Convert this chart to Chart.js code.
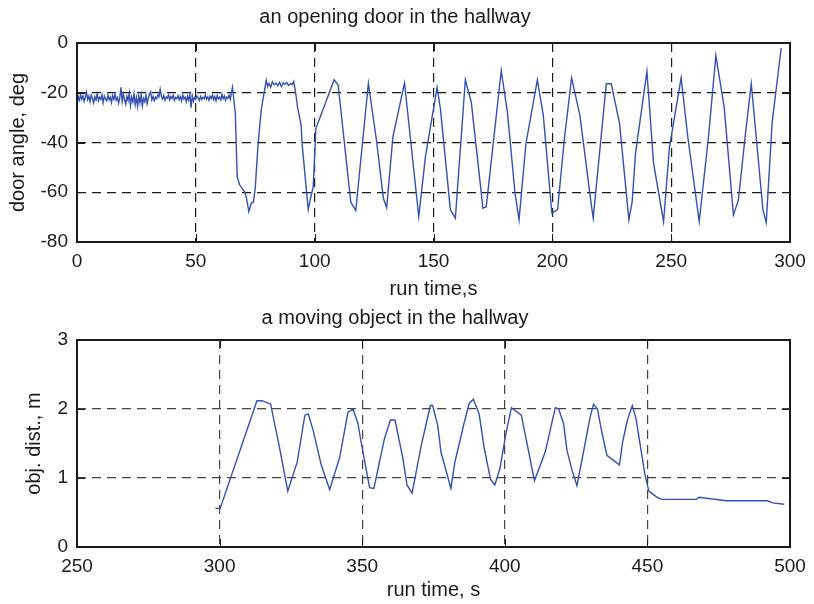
<!DOCTYPE html>
<html>
<head>
<meta charset="utf-8">
<title>door angle and object distance</title>
<script src="https://cdn.jsdelivr.net/npm/chart.js@4"></script>
<style>
  html, body { margin: 0; padding: 0; background: #fff; }
  canvas { display: block; }
</style>
</head>
<body>
<canvas id="doorChart" width="814" height="302"></canvas>
<canvas id="objChart" width="814" height="302"></canvas>
<script>
// door sensor before the door starts moving: one reading every 0.5 s from t = 0
const noiseStep = 0.5;
const doorNoise = [
  -24.5, -21.5, -23.0, -20.8, -22.6, -21.2, -23.4, -21.9, -19.8, -22.8,
  -21.4, -23.6, -20.9, -22.3, -24.1, -21.6, -22.9, -20.5, -23.2, -21.8,
  -22.7, -20.9, -24.0, -21.3, -22.5, -23.3, -21.0, -22.8, -21.7, -23.9,
  -21.1, -22.6, -20.7, -23.0, -21.9, -24.2, -22.1, -17.8, -23.5, -20.6,
  -22.8, -24.6, -21.4, -23.1, -20.2, -25.1, -21.8, -23.7, -20.4, -24.8,
  -22.0, -25.5, -21.2, -24.0, -20.8, -25.3, -22.3, -23.6, -21.0, -24.4,
  -22.2, -20.5, -19.6, -22.9, -21.5, -23.2, -21.8, -22.4, -20.9, -21.6,
  -18.6, -21.3, -22.5, -21.1, -23.0, -21.7, -22.2, -20.8, -22.9, -21.5,
  -22.3, -21.0, -23.1, -21.9, -22.4, -21.2, -22.8, -21.6, -23.3, -20.9,
  -22.5, -21.8, -23.6, -21.4, -22.9, -20.7, -26.0, -21.2, -23.4, -21.9,
  -22.6, -21.3, -22.0, -23.1, -21.5, -22.7, -21.9, -22.4, -20.8, -22.6,
  -21.7, -23.0, -21.4, -22.3, -20.9, -22.8, -21.6, -23.2, -21.1, -22.5,
  -21.8, -22.9, -20.6, -22.4, -21.3, -23.0, -21.7, -22.2, -21.0, -22.6
];

// after that, read point by point
const doorTime = [
  65.4, 66.6, 67.4, 68.4, 70.5, 71.2, 72.3, 73.3, 74.2, 75.0,
  76.1, 77.5, 78.9, 79.6, 80.2, 80.8, 81.5, 82.2, 83.0, 83.8,
  84.5, 85.2, 86.0, 86.8, 87.5, 88.3, 89.0, 89.8, 90.5, 91.2,
  92.0, 92.8, 94.3, 94.7, 95.6, 97.3, 98.4, 99.4, 100.5, 108.2,
  109.9, 115.2, 117.3, 122.6, 126.1, 128.9, 130.3, 132.9, 137.8, 143.8,
  146.6, 151.5, 152.9, 157.1, 159.2, 163.4, 165.9, 170.8, 172.2, 178.5,
  181.1, 184.3, 186.0, 188.9, 193.7, 196.2, 199.8, 202.2, 205.0, 208.1,
  211.6, 216.5, 217.2, 222.7, 224.8, 228.3, 232.2, 233.6, 235.0, 239.8,
  242.6, 246.8, 249.3, 254.2, 257.0, 261.8, 265.7, 268.8, 272.3, 276.2,
  278.3, 281.1, 283.7, 286.3, 288.6, 290.0, 292.5, 296.3
];
const doorAngle = [
  -17.8, -28.0, -53.8, -57.0, -59.8, -61.8, -67.8, -64.4, -64.0, -58.4,
  -41.8, -27.0, -19.0, -15.0, -17.5, -16.2, -17.8, -15.6, -16.8, -16.1,
  -17.2, -15.8, -17.5, -16.0, -16.6, -15.9, -17.0, -16.3, -16.8, -15.5,
  -20.0, -25.8, -33.0, -40.3, -49.7, -67.0, -61.8, -57.8, -34.4, -14.8,
  -17.0, -64.0, -67.4, -16.2, -39.8, -62.4, -66.2, -37.8, -16.0, -69.8,
  -45.8, -17.8, -26.4, -67.0, -70.4, -14.8, -23.8, -66.4, -65.8, -11.1,
  -27.8, -60.4, -71.1, -40.4, -14.8, -29.1, -68.4, -67.0, -39.1, -14.0,
  -29.1, -65.8, -70.4, -16.4, -16.4, -32.4, -71.1, -63.8, -44.4, -11.4,
  -48.4, -71.8, -41.8, -14.0, -37.8, -71.8, -37.8, -5.1, -25.8, -69.1,
  -63.1, -37.8, -16.4, -43.1, -67.0, -72.2, -31.8, -2.0
];

const objTime = [
  298.5, 300.2, 313.1, 314.8, 317.9, 321.2, 323.9, 327.2, 329.9, 331.1,
  332.8, 335.7, 338.6, 342.1, 345.0, 346.8, 348.5, 349.7, 352.6, 354.1,
  357.8, 359.9, 361.5, 364.2, 365.7, 367.5, 370.6, 373.9, 374.7, 376.5,
  377.6, 381.1, 382.5, 385.7, 387.5, 389.0, 391.0, 392.7, 395.0, 396.5,
  398.3, 400.3, 402.3, 405.8, 410.4, 414.2, 417.7, 418.9, 420.6, 421.8,
  423.6, 425.3, 427.0, 429.9, 431.1, 432.5, 434.0, 435.8, 440.2, 441.3,
  443.0, 444.7, 446.0, 449.1, 450.5, 453.4, 455.0, 467.2, 468.1, 477.6,
  492.1, 493.9, 498.0
];
const objDist = [
  0.56, 0.56, 2.12, 2.12, 2.07, 1.40, 0.81, 1.23, 1.91, 1.93,
  1.69, 1.18, 0.83, 1.30, 1.95, 2.00, 1.79, 1.50, 0.86, 0.85,
  1.57, 1.84, 1.84, 1.30, 0.90, 0.78, 1.45, 2.05, 2.05, 1.76,
  1.38, 0.85, 1.23, 1.79, 2.08, 2.14, 1.93, 1.45, 0.98, 0.90,
  1.14, 1.62, 2.02, 1.91, 0.96, 1.38, 2.02, 2.00, 1.79, 1.40,
  1.11, 0.89, 1.25, 1.88, 2.07, 2.00, 1.67, 1.33, 1.19, 1.52,
  1.84, 2.05, 1.86, 1.06, 0.81, 0.72, 0.69, 0.69, 0.72, 0.67,
  0.67, 0.64, 0.62
];

const doorPoints = doorNoise.map((v, i) => ({ x: i * noiseStep, y: v }))
  .concat(doorTime.map((t, i) => ({ x: t, y: doorAngle[i] })));
const objPoints = objTime.map((t, i) => ({ x: t, y: objDist[i] }));

Chart.defaults.font.family = '"Liberation Sans", Arial, Helvetica, sans-serif';
Chart.defaults.color = '#1a1a1a';

const lineColor = '#3351b0';

// matlab style box with inward ticks on all four sides
const framePlugin = {
  id: 'frame',
  afterDraw(chart) {
    const { ctx, chartArea: a, scales } = chart;
    const tick = 8;
    ctx.save();
    ctx.strokeStyle = '#1a1a1a';
    ctx.lineWidth = 1;
    ctx.beginPath();
    scales.x.ticks.forEach(t => {
      const px = Math.round(scales.x.getPixelForValue(t.value)) + 0.5;
      ctx.moveTo(px, a.bottom); ctx.lineTo(px, a.bottom - tick);
      ctx.moveTo(px, a.top); ctx.lineTo(px, a.top + tick);
    });
    scales.y.ticks.forEach(t => {
      const py = Math.round(scales.y.getPixelForValue(t.value)) + 0.5;
      ctx.moveTo(a.left, py); ctx.lineTo(a.left + tick, py);
      ctx.moveTo(a.right, py); ctx.lineTo(a.right - tick, py);
    });
    ctx.stroke();
    ctx.lineWidth = 2;
    ctx.strokeRect(a.left, a.top, a.right - a.left, a.bottom - a.top);
    ctx.restore();
  }
};

function makeChart(id, cfg) {
  return new Chart(document.getElementById(id), {
    type: 'line',
    data: {
      datasets: [{
        data: cfg.points,
        borderColor: lineColor,
        borderWidth: 1.4,
        pointRadius: 0,
        tension: 0,
        fill: false
      }]
    },
    options: {
      responsive: false,
      animation: false,
      devicePixelRatio: 1,
      layout: { padding: { left: 0, right: 24, top: 0, bottom: 0 } },
      plugins: {
        legend: { display: false },
        tooltip: { enabled: false },
        title: {
          display: true,
          text: cfg.title,
          font: { size: 20, weight: 'normal' },
          color: '#1a1a1a',
          padding: cfg.titlePad
        }
      },
      scales: {
        x: {
          type: 'linear',
          min: cfg.xMin,
          max: cfg.xMax,
          border: { display: false, dash: [9, 6] },
          grid: { color: cfg.gridColor, lineWidth: 1.2, drawTicks: false },
          ticks: { stepSize: 50, padding: 8, font: { size: 19 }, color: '#1a1a1a', maxRotation: 0 },
          title: { display: true, text: cfg.xLabel, font: { size: 20 }, color: '#1a1a1a', padding: { top: 0, bottom: cfg.xTitleBottom } },
          afterFit(scale) {
            scale.height = cfg.xHeight;
            scale.paddingLeft = 0;
            scale.paddingRight = 0;
          }
        },
        y: {
          min: cfg.yMin,
          max: cfg.yMax,
          border: { display: false, dash: [9, 6] },
          grid: { color: cfg.gridColor, lineWidth: 1.2, drawTicks: false },
          ticks: { stepSize: cfg.yStep, padding: 9, font: { size: 19 }, color: '#1a1a1a' },
          title: { display: true, text: cfg.yLabel, font: { size: 20 }, color: '#1a1a1a', padding: { top: cfg.yTitleLeft, bottom: 0 } },
          afterFit(scale) {
            scale.width = 77;
            scale.paddingTop = 0;
            scale.paddingBottom = 0;
          }
        }
      }
    },
    plugins: [framePlugin]
  });
}

makeChart('doorChart', {
  points: doorPoints,
  title: 'an opening door in the hallway',
  titlePad: { top: 5, bottom: 14 },
  xLabel: 'run time,s',
  yLabel: 'door angle, deg',
  xMin: 0, xMax: 300,
  yMin: -80, yMax: 0, yStep: 20,
  xHeight: 60,
  xTitleBottom: 1,
  yTitleLeft: 6,
  gridColor: '#1a1a1a'
});

makeChart('objChart', {
  points: objPoints,
  title: 'a moving object in the hallway',
  titlePad: { top: 4, bottom: 10 },
  xLabel: 'run time, s',
  yLabel: 'obj. dist., m',
  xMin: 250, xMax: 500,
  yMin: 0, yMax: 3, yStep: 1,
  xHeight: 57,
  xTitleBottom: 2,
  yTitleLeft: 22,
  gridColor: '#444'
});
</script>
</body>
</html>
